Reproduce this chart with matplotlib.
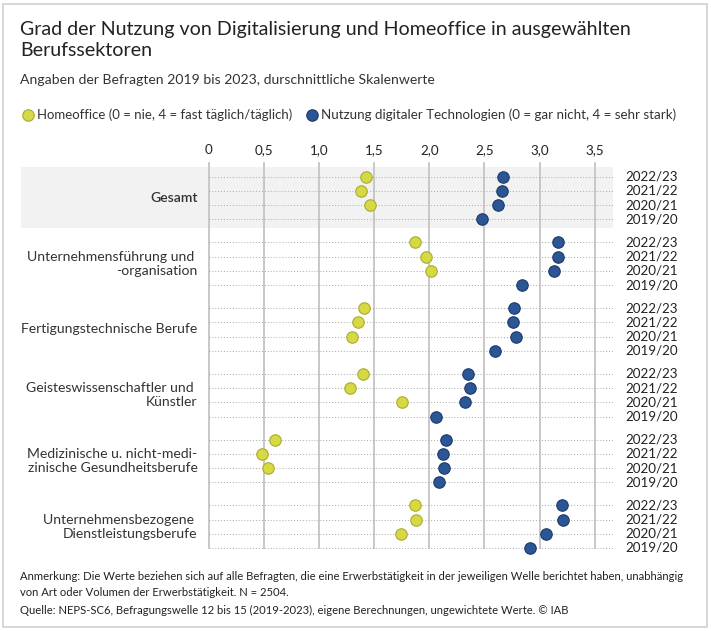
import matplotlib
matplotlib.use("Agg")
from matplotlib import pyplot as plt
from matplotlib.patches import Rectangle

plt.rcParams['font.family'] = ['Lato', 'DejaVu Sans']

# Daten
sektoren = ["Gesamt",
            "Unternehmensführung und \n-organisation",
            "Fertigungstechnische Berufe",
            "Geisteswissenschaftler und \nKünstler",
            "Medizinische u. nicht-medi-\nzinische Gesundheitsberufe",
            "Unternehmensbezogene \nDienstleistungsberufe"]
jahre = ["2022/23", "2021/22", "2020/21", "2019/20"]

# Homeoffice (2019/20 nicht erhoben -> None)
homeoffice = [
    [1.43, 1.38, 1.46, None],
    [1.87, 1.97, 2.02, None],
    [1.41, 1.35, 1.30, None],
    [1.40, 1.28, 1.75, None],
    [0.60, 0.48, 0.54, None],
    [1.87, 1.88, 1.74, None],
]
# Nutzung digitaler Technologien
digital = [
    [2.67, 2.66, 2.62, 2.48],
    [3.17, 3.17, 3.13, 2.84],
    [2.77, 2.76, 2.79, 2.60],
    [2.35, 2.37, 2.32, 2.06],
    [2.15, 2.12, 2.13, 2.09],
    [3.20, 3.21, 3.06, 2.91],
]
ticks = [0, 0.5, 1.0, 1.5, 2.0, 2.5, 3.0, 3.5]
tick_labels = ["0", "0,5", "1,0", "1,5", "2,0", "2,5", "3,0", "3,5"]

GELB = "#d6d944"
GELB_RAND = "#a9ac2c"
BLAU = "#2c5596"
BLAU_RAND = "#1b3a6c"
GRUPPE = 4.63
XMAX = 3.665

W, H = 711, 631
fig = plt.figure(figsize=(W / 100, H / 100), dpi=100)

# Rahmen
fig.patches.append(Rectangle((3 / W, 4 / H), 704 / W, 623 / H, transform=fig.transFigure,
                             fill=False, edgecolor="#d0d0d0", linewidth=1.2))

ax = fig.add_axes([21 / W, 1 - 548 / H, 592 / W, (548 - 162.7) / H])
ax.set_xlim(-1.70, XMAX)
ax.set_ylim(GRUPPE * 5 + 3, -0.986)
for s in ax.spines.values():
    s.set_visible(False)

# grauer Hintergrund für Gesamt
ax.add_patch(Rectangle((-1.70, -0.70), 1.70 + XMAX, 4.29, facecolor="#f2f2f2",
                       edgecolor="none", zorder=0))

for t in ticks:
    ax.plot([t, t], [-0.986, GRUPPE * 5 + 3], color="#c4c4c4", linewidth=1.3, zorder=1,
            clip_on=False)

for g, name in enumerate(sektoren):
    for r, jahr in enumerate(jahre):
        y = g * GRUPPE + r
        ax.plot([0, XMAX], [y, y], color="#a8a8a8", linestyle=(0, (1, 2)), linewidth=0.7,
                zorder=1, clip_on=False)
        ax.text(XMAX + 0.11, y, jahr, ha="left", va="center", fontsize=9.6, color="#222222")
        h = homeoffice[g][r]
        if h is not None:
            ax.scatter(h, y, s=68, color=GELB, edgecolor=GELB_RAND, linewidth=0.8, zorder=3,
                       clip_on=False)
        d = digital[g][r]
        if d is not None:
            ax.scatter(d, y, s=68, color=BLAU, edgecolor=BLAU_RAND, linewidth=0.8, zorder=3,
                       clip_on=False)
    ax.text(-0.10, g * GRUPPE + 1.5, name, ha="right", va="center", fontsize=10.1,
            color="#333333", linespacing=1.2,
            fontweight="semibold" if g == 0 else "normal")

ax.set_yticks([])
ax.xaxis.tick_top()
ax.set_xticks(ticks)
ax.set_xticklabels(tick_labels, fontsize=9.6, color="#222222")
ax.tick_params(axis="x", length=0, pad=5)

# Titel, Untertitel, Legende
fig.text(20 / W, 1 - 29 / H, "Grad der Nutzung von Digitalisierung und Homeoffice in ausgewählten",
         fontsize=14.1, va="center", ha="left", color="#222222")
fig.text(20 / W, 1 - 51 / H, "Berufssektoren", fontsize=14.1, va="center", ha="left",
         color="#222222")
fig.text(20 / W, 1 - 80 / H, "Angaben der Befragten 2019 bis 2023, durschnittliche Skalenwerte",
         fontsize=10.1, va="center", ha="left", color="#333333")

leg = fig.add_axes([0, 1 - 125 / H, 1, 20 / H])
leg.set_xlim(0, W)
leg.set_ylim(0, 20)
leg.axis("off")
leg.scatter([28], [10], s=68, color=GELB, edgecolor=GELB_RAND, linewidth=0.8)
leg.text(37, 10, "Homeoffice (0 = nie, 4 = fast täglich/täglich)", fontsize=9.55, va="center",
         ha="left", color="#333333")
leg.scatter([312], [10], s=68, color=BLAU, edgecolor=BLAU_RAND, linewidth=0.8)
leg.text(321, 10, "Nutzung digitaler Technologien (0 = gar nicht, 4 = sehr stark)", fontsize=9.6,
         va="center", ha="left", color="#333333")

# Fußnoten
fig.text(20 / W, 1 - 576 / H,
         "Anmerkung: Die Werte beziehen sich auf alle Befragten, die eine Erwerbstätigkeit in der "
         "jeweiligen Welle berichtet haben, unabhängig", fontsize=8.1, va="center", ha="left",
         color="#222222")
fig.text(20 / W, 1 - 593 / H, "von Art oder Volumen der Erwerbstätigkeit. N = 2504.",
         fontsize=8.1, va="center", ha="left", color="#222222")
fig.text(20 / W, 1 - 610 / H,
         "Quelle: NEPS-SC6, Befragungswelle 12 bis 15 (2019-2023), eigene Berechnungen, "
         "ungewichtete Werte. © IAB", fontsize=8.1, va="center", ha="left", color="#222222")

fig.savefig("out.png", dpi=100)
